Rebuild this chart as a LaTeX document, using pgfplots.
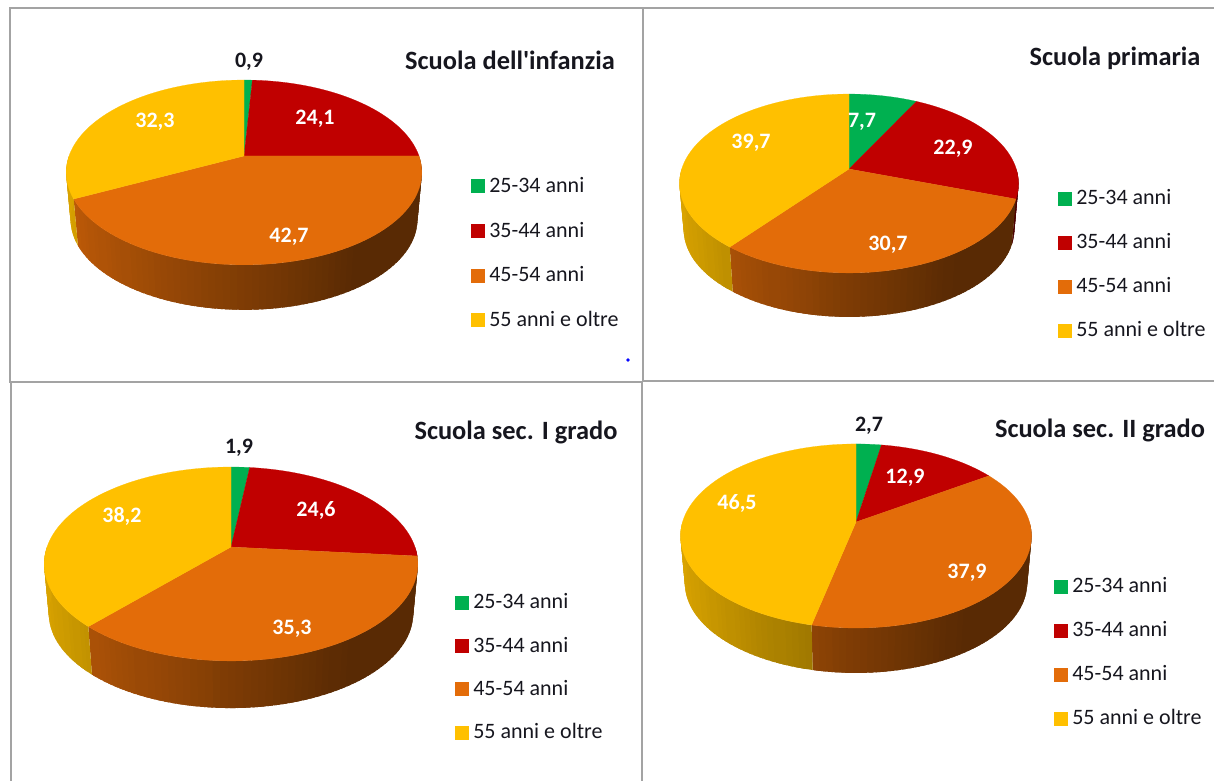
\documentclass[border=0pt]{standalone}
\usepackage{fontspec}
\setmainfont{Carlito}[Ligatures=TeXOff]
\usepackage{pgfplots}
\usepackage{pgfplotstable}
\pgfplotsset{compat=1.18}

\definecolor{pc0}{HTML}{00B050}
\definecolor{pc1}{HTML}{C00000}
\definecolor{pc2}{HTML}{E36C09}
\definecolor{pc3}{HTML}{FFC000}
\definecolor{frame}{HTML}{A3A3A3}
\definecolor{ink}{HTML}{16161E}

% percent of teachers per age band, one table per school level
\pgfplotstableread{
fascia pct
25-34 0.9
35-44 24.1
45-54 42.7
55+ 32.3
}\dataInfanzia
\pgfplotstableread{
fascia pct
25-34 7.7
35-44 22.9
45-54 30.7
55+ 39.7
}\dataPrimaria
\pgfplotstableread{
fascia pct
25-34 1.9
35-44 24.6
45-54 35.3
55+ 38.2
}\dataPrimoGrado
\pgfplotstableread{
fascia pct
25-34 2.7
35-44 12.9
45-54 37.9
55+ 46.5
}\dataSecondoGrado

% one point on the rim: angle, scale, downward shift (perspective circle)
\newcommand{\addrim}[3]{%
  \pgfmathsetmacro\rimx{\pcx+#2*\pB*sin(#1)/(1+\pk*cos(#1))}%
  \pgfmathsetmacro\rimy{\pcy+#3-#2*\pA*cos(#1)/(1+\pk*cos(#1))}%
  \edef\pts{\pts (\rimx,\rimy)}%
}
\newcount\segi
% side wall of a slice, in narrow strips that overlap so no seams show
\newcommand{\drawwall}[3]{%
  \pgfmathsetmacro\lo{max(#1,90)}%
  \pgfmathsetmacro\hi{min(#2,270)}%
  \pgfmathtruncatemacro\hasfront{\hi>\lo ? 1 : 0}%
  \ifnum\hasfront=1
    \pgfmathtruncatemacro\nseg{ceil((\hi-\lo)/2)}%
    \segi=0
    \loop\ifnum\segi<\nseg
      \pgfmathsetmacro\ta{\lo+(\hi-\lo)*(\segi/\nseg)}%
      \pgfmathsetmacro\tm{\lo+(\hi-\lo)*((\segi+1)/\nseg)}%
      \pgfmathsetmacro\tb{min(\hi,\tm+1.5)}%
      \pgfmathtruncatemacro\lit{100*max(0.40,0.56-0.30*sin((\ta+\tm)/2))}%
      \def\pts{}%
      \addrim{\ta}{1}{0}\addrim{\tb}{1}{0}%
      \addrim{\tb}{0.975}{\pD}\addrim{\ta}{0.975}{\pD}%
      \edef\cmd{\noexpand\addplot[forget plot,fill=#3!\lit!black,draw=none]
        coordinates {\pts} -- cycle;}\cmd
      \advance\segi by 1
    \repeat
  \fi
}
\newcommand{\drawtop}[3]{%
  \pgfmathtruncatemacro\nseg{ceil((#2-#1)/2)}%
  \edef\pts{(\pcx,\pcy)}%
  \segi=0
  \loop\ifnum\segi<\nseg
    \pgfmathsetmacro\ta{#1+(#2-#1)*(\segi/\nseg)}%
    \addrim{\ta}{1}{0}%
    \advance\segi by 1
  \repeat
  \addrim{#2}{1}{0}%
  \edef\cmd{\noexpand\addplot[forget plot,fill=#3,draw=#3,line width=0.1pt]
    coordinates {\pts} -- cycle;}\cmd
}
% table, apex x, apex y, A, k, B, depth
\newcommand{\drawpie}[7]{%
  \def\pcx{#2}\def\pcy{#3}\def\pA{#4}\def\pk{#5}\def\pB{#6}\def\pD{#7}%
  \pgfplotstablegetelem{0}{pct}\of{#1}\let\va\pgfplotsretval
  \pgfplotstablegetelem{1}{pct}\of{#1}\let\vb\pgfplotsretval
  \pgfplotstablegetelem{2}{pct}\of{#1}\let\vc\pgfplotsretval
  \pgfplotstablegetelem{3}{pct}\of{#1}\let\vd\pgfplotsretval
  \pgfmathsetmacro\tot{\va+\vb+\vc+\vd}%
  \pgfmathsetmacro\ea{360*(\va/\tot)}%
  \pgfmathsetmacro\eb{360*((\va+\vb)/\tot)}%
  \pgfmathsetmacro\ec{360*((\va+\vb+\vc)/\tot)}%
  \drawwall{0}{\ea}{pc0}\drawwall{\ea}{\eb}{pc1}\drawwall{\eb}{\ec}{pc2}\drawwall{\ec}{360}{pc3}%
  \drawtop{0}{\ea}{pc0}\drawtop{\ea}{\eb}{pc1}\drawtop{\eb}{\ec}{pc2}\drawtop{\ec}{360}{pc3}%
}
\newcommand{\legendband}{%
  \addlegendimage{color=pc0}\addlegendentry{25-34 anni}
  \addlegendimage{color=pc1}\addlegendentry{35-44 anni}
  \addlegendimage{color=pc2}\addlegendentry{45-54 anni}
  \addlegendimage{color=pc3}\addlegendentry{55 anni e oltre}
}

\pgfplotsset{
  panel/.style={
    scale only axis, hide axis, clip=false, anchor=south west,
    y dir=reverse,
    legend cell align=left,
    legend image code/.code={\fill[##1] (0pt,-3.2pt) rectangle (6.5pt,3.3pt);\path[draw=none,fill=none] (0pt,0pt) -- (9pt,0pt);},
    legend style={draw=none,fill=none,anchor=north west,inner sep=0pt,
      font=\fontsize{11}{13}\selectfont,text=ink,
      row sep=8.6pt,nodes={inner sep=0pt,outer sep=0pt,minimum height=13.4pt}},
  },
}
\tikzset{
  vallab/.style={font=\fontsize{11}{13}\selectfont\bfseries,text=white,yshift=-1pt},
  valout/.style={font=\fontsize{11}{13}\selectfont\bfseries,text=ink,yshift=-1pt},
  ttl/.style={font=\fontsize{13.2}{16}\selectfont\bfseries,text=ink,yshift=-1pt},
}

\begin{document}
\begin{tikzpicture}
\path[use as bounding box] (0,0) rectangle (607pt,390.5pt);

\begin{axis}[panel,at={(0pt,200pt)},width=321.5pt,height=190.5pt,
  xmin=0,xmax=643,ymin=0,ymax=381,
  legend style={at={(axis cs:470.5,172.5)},row sep=8.95pt}]
  \addplot[forget plot,frame,line width=1pt] coordinates {(643,8.5) (9.5,8.5) (9.5,381.5) (643,381.5)};
  \addplot[forget plot,frame,line width=1pt] coordinates {(643,8.5) (643,381.5)};
  \drawpie{\dataInfanzia}{244}{156}{89.5}{0.178}{175}{47.7}
  \addplot[forget plot,only marks,mark=*,mark size=0.6pt,color=blue] coordinates {(628,360)};
  \node[valout] at (249,60) {0,9};
  \node[vallab] at (315,117) {24,1};
  \node[vallab] at (289,235) {42,7};
  \node[vallab] at (155,120) {32,3};
  \node[ttl] at (510,58) {Scuola dell'infanzia};
  \legendband
\end{axis}

\begin{axis}[panel,at={(321.5pt,200pt)},width=285.5pt,height=190.5pt,
  xmin=643,xmax=1214,ymin=0,ymax=381,
  legend style={at={(axis cs:1057.5,185)}}]
  \addplot[forget plot,frame,line width=1pt] coordinates {(643,8.5) (1214,8.5)};
  \addplot[forget plot,frame,line width=1pt] coordinates {(643,381) (1214,381)};
  \drawpie{\dataPrimaria}{849}{169}{87.1}{0.162}{167.3}{46.6}
  \node[vallab] at (862,120) {7,7};
  \node[vallab] at (953,147) {22,9};
  \node[vallab] at (888,243) {30,7};
  \node[vallab] at (751,141) {39,7};
  \node[ttl] at (1115,56) {Scuola primaria};
  \legendband
\end{axis}

\begin{axis}[panel,at={(0pt,0pt)},width=321.5pt,height=200pt,
  xmin=0,xmax=643,ymin=381,ymax=781,
  legend style={at={(axis cs:454.5,589)},row sep=8.25pt}]
  \addplot[forget plot,frame,line width=1pt] coordinates {(11,382) (11,781)};
  \addplot[forget plot,frame,line width=1pt] coordinates {(642,382) (642,781)};
  \drawpie{\dataPrimoGrado}{231}{547}{94}{0.175}{184}{50}
  \node[valout] at (239,446) {1,9};
  \node[vallab] at (316,508) {24,6};
  \node[vallab] at (292,627) {35,3};
  \node[vallab] at (122,514) {38,2};
  \node[ttl] at (516,430) {Scuola sec. I grado};
  \legendband
\end{axis}

\begin{axis}[panel,at={(321.5pt,0pt)},width=285.5pt,height=200pt,
  xmin=643,xmax=1214,ymin=381,ymax=781,
  legend style={at={(axis cs:1053.5,573)}}]
  \drawpie{\dataSecondoGrado}{856}{522}{89.9}{0.152}{173.5}{47.6}
  \node[valout] at (869,424) {2,7};
  \node[vallab] at (905,476) {12,9};
  \node[vallab] at (967,571) {37,9};
  \node[vallab] at (737,501) {46,5};
  \node[ttl] at (1100,428) {Scuola sec. II grado};
  \legendband
\end{axis}
\end{tikzpicture}
\end{document}
